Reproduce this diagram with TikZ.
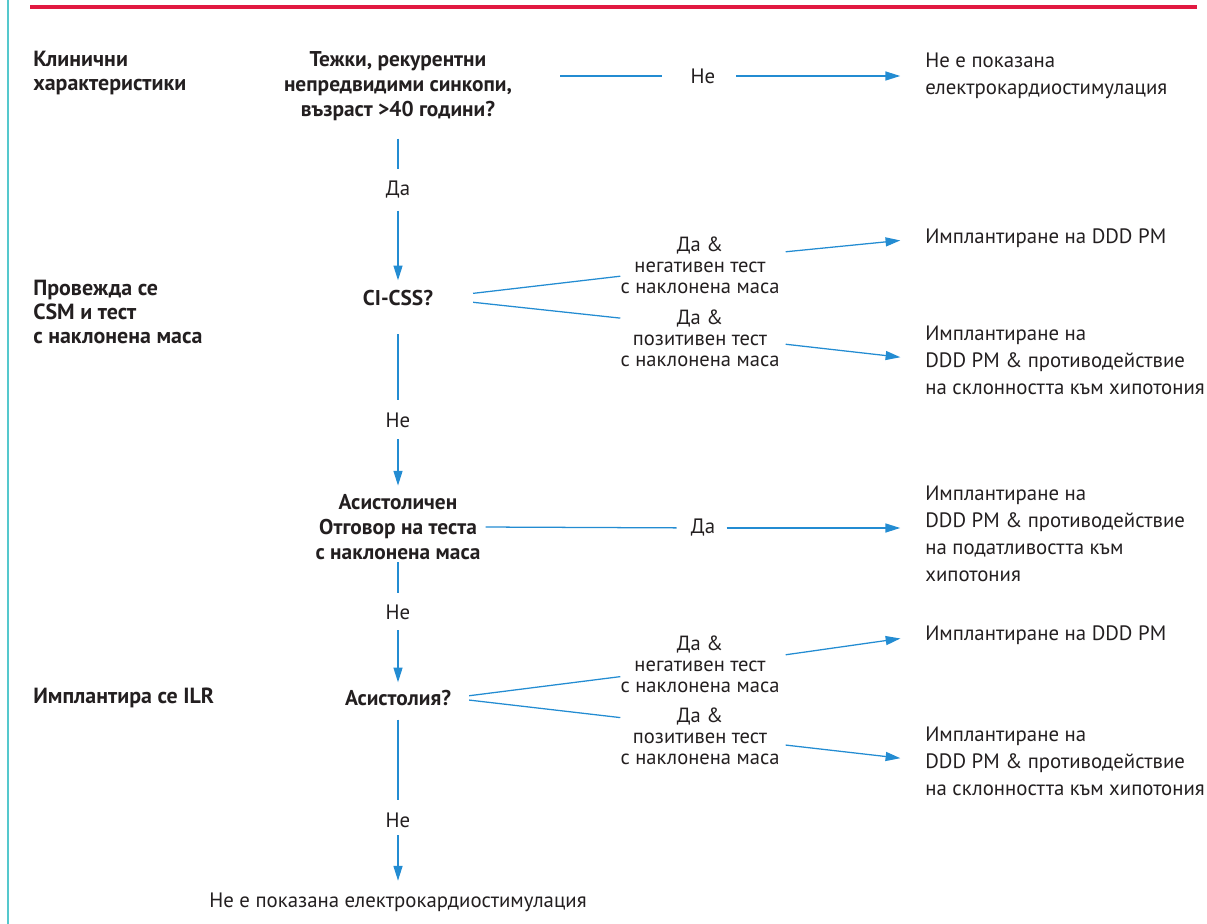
\documentclass[tikz,border=0pt]{standalone}
\usepackage{fontspec}
\setmainfont{PT Sans}
\usetikzlibrary{arrows.meta,positioning}
\definecolor{myblue}{RGB}{35,140,210}
\definecolor{myred}{RGB}{225,25,65}
\definecolor{myteal}{RGB}{85,200,205}
\definecolor{mytext}{RGB}{35,31,32}

\begin{document}
\begin{tikzpicture}[x=0.025cm,y=-0.025cm,font=\fontsize{14.8}{19.2}\selectfont,text=mytext,
  line/.style={draw=myblue,line width=0.9pt},
  arr/.style={line,-{Triangle[length=10.5pt,width=6.4pt]}},
  quest/.style={font=\fontsize{15.2}{17.8}\selectfont\bfseries,align=center,inner sep=0pt},
  lab/.style={align=center,inner sep=0pt},
  cond/.style={font=\fontsize{14.6}{15}\selectfont,align=center,inner sep=0pt},
  res/.style={align=left,anchor=west,inner sep=0pt},
  side/.style={font=\fontsize{15.6}{16.8}\selectfont\bfseries,align=left,anchor=west,inner sep=0pt}]

  \useasboundingbox (0,0) rectangle (1207,924);
  \draw[myteal,line width=2pt] (8,0) -- (8,924);
  \draw[myred,line width=2.2pt] (30,7) -- (1197,7);

  % left column
  \node[side] (clin) at (33,73) {Клинични\\характеристики};
  \node[side] (csm) at (33,312) {Провежда се\\CSM и тест\\с наклонена маса};
  \node[side] (ilr) at (33,698) {Имплантира се ILR};

  % questions
  \node[quest] (q1) at (398,86) {Тежки, рекурентни\\непредвидими синкопи,\\възраст >40 години?};
  \node[quest] (q2) at (398,298) {CI-CSS?};
  \node[quest] (q3) at (398,527) {Асистоличен\\Отговор на теста\\с наклонена маса};
  \node[quest] (q4) at (398,698) {Асистолия?};
  \node[lab] (end) at (398,902) {Не е показана електрокардиостимулация};

  % answers
  \node[lab] (da1) at (398,190) {Да};
  \node[lab] (ne1) at (398,420) {Не};
  \node[lab] (ne2) at (398,612) {Не};
  \node[lab] (ne3) at (398,820) {Не};
  \node[lab] (ne0) at (703,76) {Не};
  \node[lab] (da3) at (703,528) {Да};
  \node[cond] (l2a) at (700,265) {Да \&\\негативен тест\\с наклонена маса};
  \node[cond] (l2b) at (700,338) {Да \&\\позитивен тест\\с наклонена маса};
  \node[cond] (l4a) at (700,664) {Да \&\\негативен тест\\с наклонена маса};
  \node[cond] (l4b) at (700,736) {Да \&\\позитивен тест\\с наклонена маса};

  % results
  \node[res] (r1) at (925,76) {Не е показана\\електрокардиостимулация};
  \node[res] (r2a) at (925,238) {Имплантиране на DDD PM};
  \node[res] (r2b) at (925,360) {Имплантиране на\\DDD PM \& противодействие\\на склонността към хипотония};
  \node[res] (r3) at (925,534) {Имплантиране на\\DDD PM \& противодействие\\на податливостта към\\хипотония};
  \node[res] (r4a) at (925,635) {Имплантиране на DDD PM};
  \node[res] (r4b) at (925,761) {Имплантиране на\\DDD PM \& противодействие\\на склонността към хипотония};

  % main column
  \draw[line,shorten <=0.44cm,shorten >=0.29cm] (q1) -- (da1);
  \draw[arr,shorten <=0.29cm,shorten >=0.24cm] (da1) -- (q2);
  \draw[line,shorten <=0.71cm,shorten >=0.31cm] (q2) -- (ne1);
  \draw[arr,shorten <=0.29cm,shorten >=0.21cm] (ne1) -- (q3);
  \draw[line,shorten <=0.06cm,shorten >=0.29cm] (q3) -- (ne2);
  \draw[arr,shorten <=0.26cm,shorten >=0.19cm] (ne2) -- (q4);
  \draw[line,shorten <=0.34cm,shorten >=0.31cm] (q4) -- (ne3);
  \draw[arr,shorten <=0.19cm,shorten >=0.29cm] (ne3) -- (end);

  % branches
  \draw[line,shorten <=1.2cm,shorten >=0.7cm] (q1.east |- ne0) -- (ne0);
  \draw[arr,shorten <=0.52cm,shorten >=0.62cm] (ne0) -- (r1.west);
  \draw[line,shorten <=1cm] (q2.east) -- (l2a.188);
  \draw[line,shorten <=1cm] (q2.east) -- (l2b.166);
  \draw[arr,shorten <=0.15cm,shorten >=0.62cm] (l2a.9.5) -- (r2a.west);
  \draw[arr,shorten <=0.15cm,shorten >=0.62cm] (l2b.356) -- (r2b.west);
  \draw[line,shorten <=0.12cm,shorten >=0.35cm] (q3.east) -- (da3);
  \draw[arr,shorten <=0.28cm,shorten >=0.62cm] (da3) -- (r3.west |- da3);
  \draw[line,shorten <=0.45cm] (q4.east) -- (l4a.189);
  \draw[line,shorten <=0.45cm] (q4.east) -- (l4b.167);
  \draw[arr,shorten <=0.15cm,shorten >=0.62cm] (l4a.6) -- (r4a.west);
  \draw[arr,shorten <=0.15cm,shorten >=0.62cm] (l4b.354) -- (r4b.west);

\end{tikzpicture}
\end{document}
